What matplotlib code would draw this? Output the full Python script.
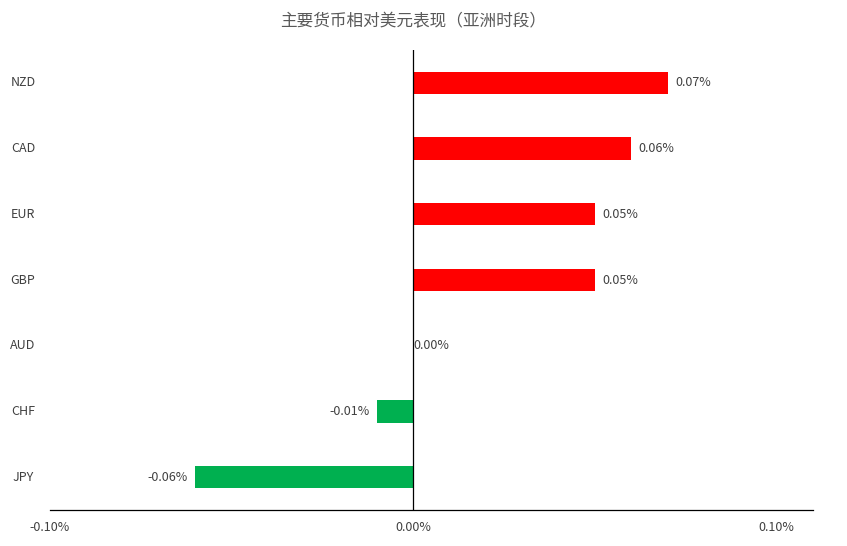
import matplotlib
matplotlib.use("Agg")
import matplotlib.pyplot as plt

plt.rcParams['font.family'] = ['Noto Sans CJK SC', 'DejaVu Sans']

currencies = ["JPY", "CHF", "AUD", "GBP", "EUR", "CAD", "NZD"]
values = [-0.06, -0.01, 0.00, 0.05, 0.05, 0.06, 0.07]
labels = ["-0.06%", "-0.01%", "0.00%", "0.05%", "0.05%", "0.06%", "0.07%"]
xticks = [-0.10, 0.00, 0.10]
xticklabels = ["-0.10%", "0.00%", "0.10%"]
title = "主要货币相对美元表现（亚洲时段）"

W, H = 847, 546
fig = plt.figure(figsize=(W/100, H/100), dpi=100)
ax = fig.add_axes([50/W, 36/H, 763/W, 460/H])
colors = ["#00B050" if v < 0 else "#FF0000" for v in values]
ypos = list(range(len(currencies)))
ax.barh(ypos, values, height=0.34, color=colors)
ax.set_xlim(-0.10, 0.11)
ax.set_ylim(-0.5, 6.5)
ax.axvline(0, color="black", lw=0.9)
for s in ["top", "right", "left"]:
    ax.spines[s].set_visible(False)
ax.spines["bottom"].set_linewidth(0.9)
ax.set_yticks([])
ax.set_xticks(xticks)
ax.set_xticklabels(xticklabels, fontsize=9, color="#404040")
ax.tick_params(axis="x", length=0, pad=8)
for y, v, lab, c in zip(ypos, values, labels, currencies):
    if v < 0:
        ax.text(v - 0.002, y, lab, ha="right", va="center", fontsize=9, color="#404040")
    else:
        ax.text(v + 0.002 if v > 0 else v, y, lab, ha="left", va="center", fontsize=9, color="#404040")
    ax.text(22/W, 0, c, transform=ax.get_yaxis_transform(), alpha=0)
    fig.text(22/W, 0, "")
# category labels in figure coords
for y, c in zip(ypos, currencies):
    disp = ax.transData.transform((0, y))
    fy = disp[1] / fig.bbox.height
    fig.text(23/W, fy, c, ha="center", va="center", fontsize=9, color="#404040")
fig.text(0.5 - 10/W, 1 - 22/H, title, ha="center", va="center", fontsize=12, color="#595959")
fig.savefig("out.png", dpi=100)
